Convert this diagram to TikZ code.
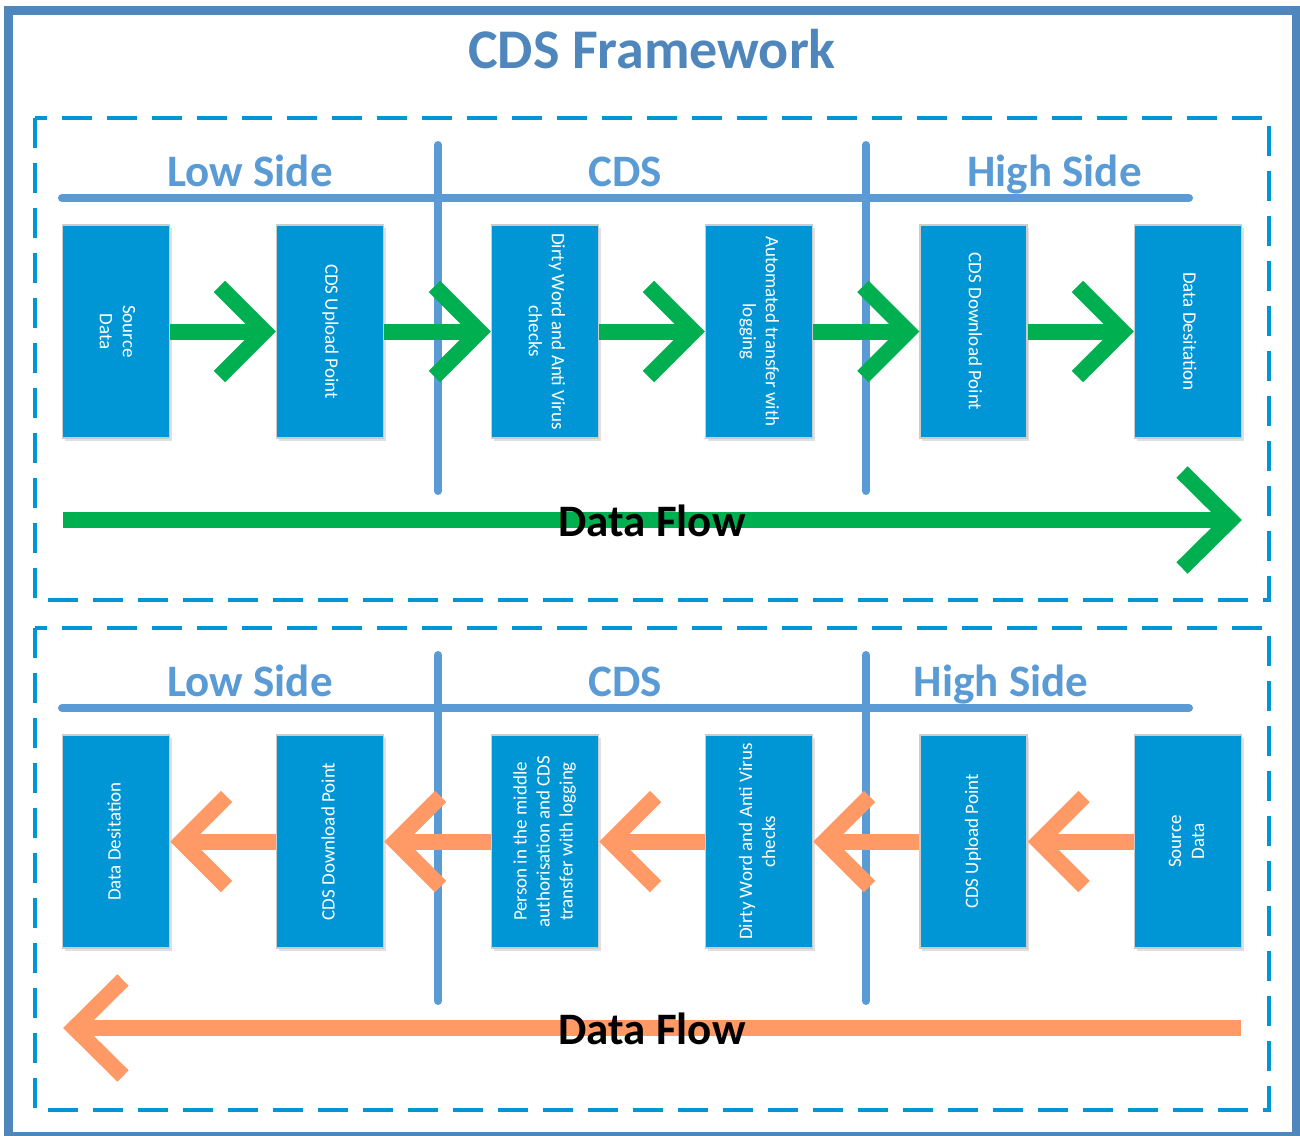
\documentclass[tikz,border=0pt]{standalone}
\usepackage{fontspec}
\setmainfont{Carlito}
\usetikzlibrary{arrows.meta,shadows}

\definecolor{frameblue}{HTML}{4F86BB}
\definecolor{sectblue}{HTML}{5B9BD5}
\definecolor{zoneblue}{HTML}{0096D6}
\definecolor{stageblue}{HTML}{0096D6}
\definecolor{flowgreen}{HTML}{00B050}
\definecolor{floworange}{HTML}{FF9966}

% rotated, centred multi-line label for a stage box
\newcommand\stagetext[2]{\rotatebox{#1}{\begin{tabular}{@{}c@{}}#2\end{tabular}}}

% thick open chevron heads; the outer miter point sits on the path end
\pgfdeclarearrow{
  name = ChevSmall,
  setup code = {
    \pgfarrowssettipend{0pt}
    \pgfarrowssetlineend{-14pt}
    \pgfarrowssetbackend{-62pt}
  },
  drawing code = {
    \pgfsetdash{}{0pt}
    \pgfsetmiterjoin
    \pgfsetbuttcap
    \pgfsetlinewidth{16pt}
    \pgfpathmoveto{\pgfqpoint{-56.3pt}{45pt}}
    \pgfpathlineto{\pgfqpoint{-11.3pt}{0pt}}
    \pgfpathlineto{\pgfqpoint{-56.3pt}{-45pt}}
    \pgfusepathqstroke
  }
}
\pgfdeclarearrow{
  name = ChevLarge,
  setup code = {
    \pgfarrowssettipend{0pt}
    \pgfarrowssetlineend{-14pt}
    \pgfarrowssetbackend{-64pt}
  },
  drawing code = {
    \pgfsetdash{}{0pt}
    \pgfsetmiterjoin
    \pgfsetbuttcap
    \pgfsetlinewidth{16pt}
    \pgfpathmoveto{\pgfqpoint{-60pt}{48pt}}
    \pgfpathlineto{\pgfqpoint{-11.5pt}{0pt}}
    \pgfpathlineto{\pgfqpoint{-60pt}{-48pt}}
    \pgfusepathqstroke
  }
}

\begin{document}
\begin{tikzpicture}[x=1pt,y=-1pt,
  outerframe/.style={draw=frameblue,line width=9pt},
  zone/.style={draw=zoneblue,line width=4pt,dash pattern=on 30pt off 15pt},
  divider/.style={draw=sectblue,line width=8pt,line cap=round},
  sidelabel/.style={anchor=base,text=sectblue,inner sep=0pt,
    font=\bfseries\fontsize{45}{50}\selectfont},
  stage/.style={rectangle,fill=stageblue,draw=black!20,line width=1.5pt,
    minimum width=107pt,minimum height=213pt,inner sep=0pt,text=white,
    font=\fontsize{19}{23}\selectfont,
    drop shadow={shadow xshift=2pt,shadow yshift=-3pt,opacity=0.12,fill=black}},
  gstep/.style={draw=flowgreen,line width=16pt,-{ChevSmall}},
  ostep/.style={draw=floworange,line width=16pt,-{ChevSmall}},
  gbig/.style={draw=flowgreen,line width=16pt,-{ChevLarge}},
  obig/.style={draw=floworange,line width=16pt,-{ChevLarge}},
  flowtext/.style={anchor=base,inner sep=0pt,font=\bfseries\fontsize{45}{50}\selectfont}
]
\useasboundingbox (0,0) rectangle (1300,1135);
\path[clip] (0,0) rectangle (1300,1135);

% outer frame and title
\draw[outerframe] (8.5,10) rectangle (1296.5,1136.5);
\node[anchor=base,inner sep=0pt,text=frameblue,font=\bfseries\fontsize{56}{62}\selectfont]
  (title) at (652,68) {CDS Framework};

% dashed zones
\draw[zone] (35,118) rectangle (1269,600);
\draw[zone] (35,628) rectangle (1269,1110);

% ---------- upper zone: low side to high side ----------
\draw[divider] (62,198) -- (1189,198);
\draw[divider] (438,145) -- (438,491);
\draw[divider] (866,145) -- (866,491);
\node[sidelabel] (lowA)  at (250,186)  {Low Side};
\node[sidelabel] (cdsA)  at (625.5,186) {CDS};
\node[sidelabel] (highA) at (1054.5,186) {High Side};

\node[stage] (t1) at (116,331.5)   {\stagetext{-90}{Source\\Data}};
\node[stage] (t2) at (330,331.5)   {\stagetext{-90}{CDS Upload Point}};
\node[stage] (t3) at (545,331.5)   {\stagetext{-90}{Dirty Word and Anti Virus\\checks}};
\node[stage] (t4) at (759,331.5)   {\stagetext{-90}{Automated transfer with\\logging}};
\node[stage] (t5) at (973.5,331.5) {\stagetext{-90}{CDS Download Point}};
\node[stage] (t6) at (1188,331.5)  {\stagetext{-90}{Data Desitation}};

\draw[gstep] (t1.east) -- (t2.west);
\draw[gstep] (t2.east) -- (t3.west);
\draw[gstep] (t3.east) -- (t4.west);
\draw[gstep] (t4.east) -- (t5.west);
\draw[gstep] (t5.east) -- (t6.west);

\coordinate (gfrom) at (63,520);
\coordinate (gto)   at (1242,520);
\draw[gbig] (gfrom) -- (gto);
\node[flowtext] (flowA) at (652,536) {Data Flow};

% ---------- lower zone: high side to low side ----------
\draw[divider] (62,708) -- (1189,708);
\draw[divider] (438,655) -- (438,1001);
\draw[divider] (866,655) -- (866,1001);
\node[sidelabel] (lowB)  at (250,696)   {Low Side};
\node[sidelabel] (cdsB)  at (625.5,696) {CDS};
\node[sidelabel] (highB) at (1001,696)  {High Side};

\node[stage] (u1) at (116,841.5)   {\stagetext{90}{Data Desitation}};
\node[stage] (u2) at (330,841.5)   {\stagetext{90}{CDS Download Point}};
\node[stage] (u3) at (545,841.5)   {\stagetext{90}{Person in the middle\\authorisation and CDS\\transfer with logging}};
\node[stage] (u4) at (759,841.5)   {\stagetext{90}{Dirty Word and Anti Virus\\checks}};
\node[stage] (u5) at (973.5,841.5) {\stagetext{90}{CDS Upload Point}};
\node[stage] (u6) at (1188,841.5)  {\stagetext{90}{Source\\Data}};

\draw[ostep] (u6.west) -- (u5.east);
\draw[ostep] (u5.west) -- (u4.east);
\draw[ostep] (u4.west) -- (u3.east);
\draw[ostep] (u3.west) -- (u2.east);
\draw[ostep] (u2.west) -- (u1.east);

\coordinate (ofrom) at (1241,1028);
\coordinate (oto)   at (63,1028);
\draw[obig] (ofrom) -- (oto);
\node[flowtext] (flowB) at (652,1044) {Data Flow};
\end{tikzpicture}
\end{document}
